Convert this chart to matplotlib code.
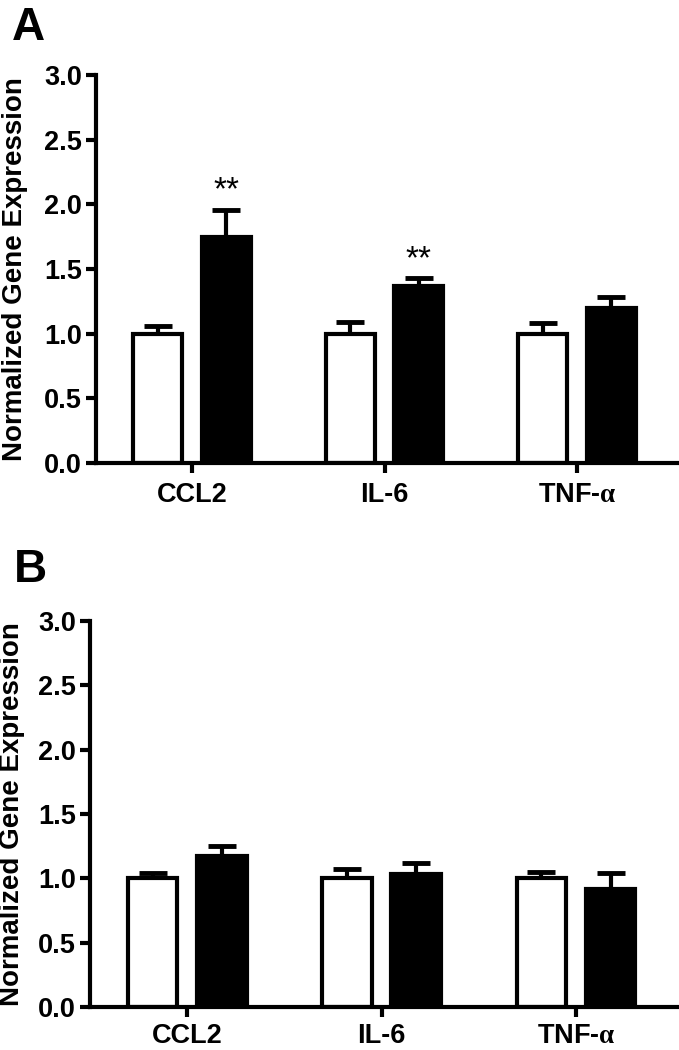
import matplotlib
matplotlib.use('Agg')
import matplotlib.pyplot as plt
import numpy as np

plt.rcParams['font.family'] = ['Liberation Sans', 'DejaVu Sans']
plt.rcParams['font.weight'] = 'bold'
plt.rcParams['mathtext.fontset'] = 'custom'
plt.rcParams['mathtext.rm'] = 'Liberation Serif'
plt.rcParams['mathtext.it'] = 'Liberation Serif:italic'

genes = ["CCL2", "IL-6", r"TNF-$\mathrm{\alpha}$"]

# panel A
a_ctrl = [1.00, 1.00, 1.00]
a_ctrl_err = [0.06, 0.09, 0.08]
a_trt = [1.75, 1.37, 1.20]
a_trt_err = [0.21, 0.06, 0.08]
a_sig = ["**", "**", ""]

# panel B
b_ctrl = [1.00, 1.00, 1.00]
b_ctrl_err = [0.04, 0.07, 0.05]
b_trt = [1.17, 1.03, 0.92]
b_trt_err = [0.08, 0.09, 0.12]
b_sig = ["", "", ""]

LW = 3.0
off = 0.178
w = 0.255


def panel(ax, ctrl, ctrl_err, trt, trt_err, sig, label_x, xpad):
    x = np.arange(len(genes))
    for xs, vals, errs, fc in [(x - off, ctrl, ctrl_err, 'white'),
                               (x + off, trt, trt_err, 'black')]:
        ax.errorbar(xs, vals, yerr=[np.zeros(len(vals)), errs], fmt='none',
                    ecolor='black', elinewidth=LW, capsize=10, capthick=LW + 0.5,
                    zorder=1)
        ax.bar(xs, vals, w, color=fc, edgecolor='black', linewidth=LW,
               zorder=2)
    for xi, v, e, s in zip(x + off, trt, trt_err, sig):
        if s:
            ax.annotate(s, (xi, v + e), xytext=(0, 2), textcoords='offset points',
                        ha='center', va='bottom', fontsize=24,
                        fontweight='normal')
    ax.set_xlim(-0.5, 2.52)
    ax.set_ylim(0, 3.0)
    ticks = np.arange(0, 3.01, 0.5)
    ax.set_yticks(ticks)
    ax.set_yticklabels([f"{t:.1f}" for t in ticks])
    ax.set_xticks(x)
    ax.set_xticklabels(genes)
    for side in ['top', 'right']:
        ax.spines[side].set_visible(False)
    for side in ['left', 'bottom']:
        ax.spines[side].set_linewidth(LW)
    ax.tick_params(axis='both', width=LW, length=7, labelsize=19.5)
    ax.tick_params(axis='y', pad=3)
    ax.tick_params(axis='x', pad=xpad)
    ax.set_ylabel('Normalized Gene Expression', fontsize=20, fontweight='bold')
    ax.yaxis.set_label_coords(label_x, 0.5)


fig = plt.figure(figsize=(6.79, 10.5), dpi=100)
axA = fig.add_axes([96 / 679, 1 - 463 / 1050, 581 / 679, 388 / 1050])
axB = fig.add_axes([90 / 679, 1 - 1007 / 1050, 587 / 679, 386 / 1050])
panel(axA, a_ctrl, a_ctrl_err, a_trt, a_trt_err, a_sig, -0.117, 7)
panel(axB, b_ctrl, b_ctrl_err, b_trt, b_trt_err, b_sig, -0.111, 4.5)

fig.text(12 / 679, 1 - 6 / 1050, 'A', fontsize=33, fontweight='bold',
         ha='left', va='top')
fig.text(14 / 679, 1 - 548 / 1050, 'B', fontsize=33, fontweight='bold',
         ha='left', va='top')

fig.savefig('out.png', dpi=100)
